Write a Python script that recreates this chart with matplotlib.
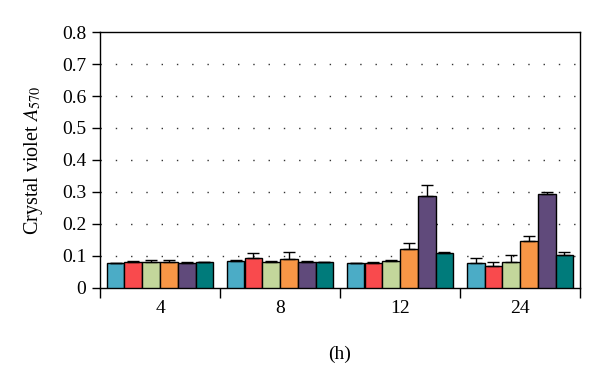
import numpy as np
import matplotlib
matplotlib.use('Agg')
import matplotlib.pyplot as plt

plt.rcParams['font.family'] = ['Liberation Serif', 'DejaVu Serif']
plt.rcParams['mathtext.fontset'] = 'stix'

hours = ['4', '8', '12', '24']
colors = ['#4BACC6', '#F94A4D', '#C3D69B', '#F79646', '#604A7B', '#007B7B']

# one list per series (six strains), values for 4, 8, 12, 24 h
s1 = [0.077, 0.085, 0.077, 0.078]
s2 = [0.080, 0.093, 0.079, 0.069]
s3 = [0.080, 0.080, 0.085, 0.082]
s4 = [0.082, 0.090, 0.121, 0.147]
s5 = [0.078, 0.082, 0.287, 0.295]
s6 = [0.080, 0.080, 0.109, 0.102]
e1 = [0.002, 0.002, 0.002, 0.017]
e2 = [0.003, 0.017, 0.003, 0.011]
e3 = [0.008, 0.003, 0.004, 0.020]
e4 = [0.004, 0.022, 0.020, 0.016]
e5 = [0.002, 0.002, 0.036, 0.004]
e6 = [0.002, 0.002, 0.003, 0.011]
series = [s1, s2, s3, s4, s5, s6]
errs = [e1, e2, e3, e4, e5, e6]

fig = plt.figure(figsize=(6, 3.73), dpi=100)
ax = fig.add_axes([0.1667, 0.2279, 0.8, 0.6863])

x = np.arange(len(hours))
w = 0.148
for i, (vals, err) in enumerate(zip(series, errs)):
    pos = x + (i - 2.5) * w
    ax.bar(pos, vals, w, color=colors[i], edgecolor='black', linewidth=1.0, zorder=3)
    ax.errorbar(pos, vals, yerr=[np.zeros(len(err)), err], fmt='none',
                ecolor='black', elinewidth=1.0, capsize=4, capthick=1.0, zorder=4)

ax.set_xlim(-0.5, 3.5)
ax.set_ylim(0, 0.8)
ax.set_yticks(np.arange(0, 0.81, 0.1))
ax.set_yticklabels(['0'] + ['%.1f' % v for v in np.arange(0.1, 0.81, 0.1)])
for v in np.arange(0.1, 0.75, 0.1):
    ax.axhline(v, color='#333333', linestyle=(0, (1, 10)), linewidth=1.0, zorder=1)

ax.set_xticks(np.arange(-0.5, 4, 1))
ax.set_xticklabels([])
ax.set_xticks(x, minor=True)
ax.set_xticklabels(hours, minor=True)
ax.tick_params(axis='x', which='major', direction='out', length=7, width=1)
ax.tick_params(axis='x', which='minor', length=0, pad=9, labelsize=14)
ax.tick_params(axis='y', direction='out', length=6, width=1, labelsize=14, pad=4)

for sp in ax.spines.values():
    sp.set_linewidth(1.0)

ax.set_xlabel('(h)', fontsize=14, labelpad=20)
ax.set_ylabel(r'Crystal violet $\mathit{A}_{570}$', fontsize=14.5, labelpad=12)

fig.savefig('out.png', dpi=100)
